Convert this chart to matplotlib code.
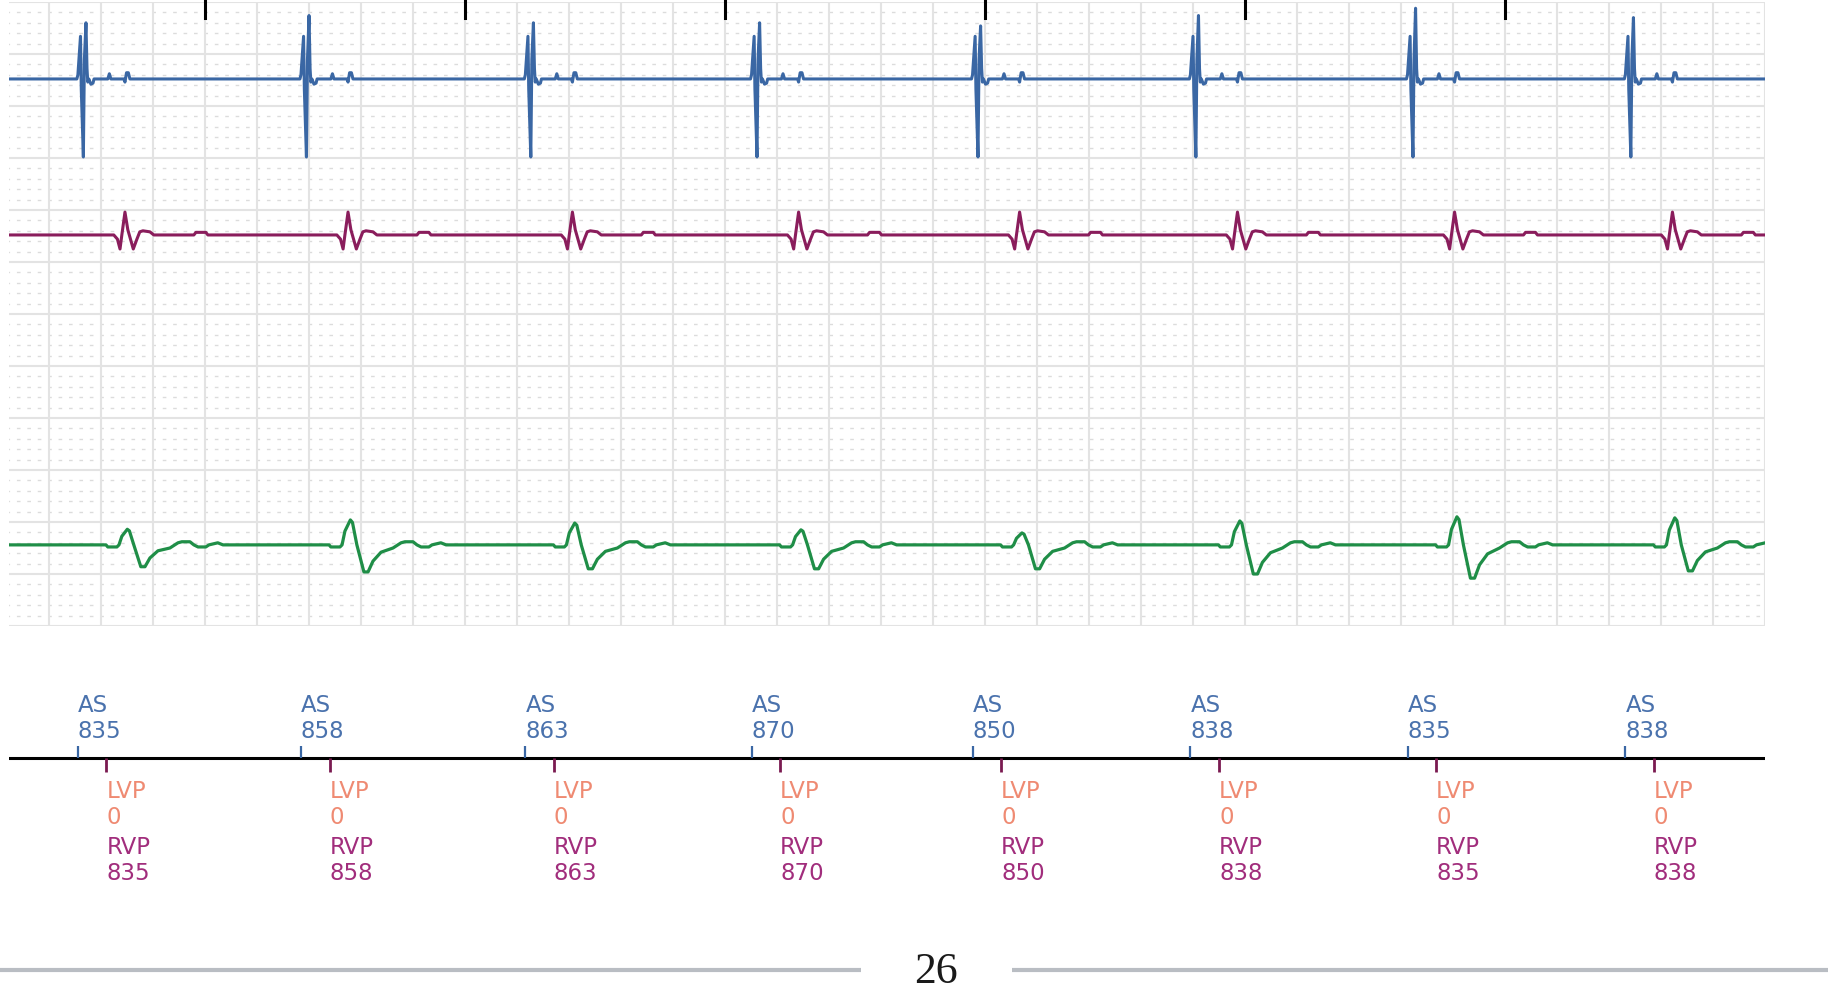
import matplotlib
matplotlib.use('Agg')
import matplotlib.pyplot as plt
import numpy as np

plt.rcParams['lines.scale_dashes'] = False

# Marker channel: intervals (ms) shown under each beat
as_intervals = [835, 858, 863, 870, 850, 838, 835, 838]
lvp_values = [0, 0, 0, 0, 0, 0, 0, 0]
rvp_intervals = [835, 858, 863, 870, 850, 838, 835, 838]
first_as = 111      # ms, time of first atrial sense on the strip
av_delay = 110      # ms, AS -> RVP

blue_t = [-4, 0, 10, 13, 21, 25, 31, 35, 38, 42, 50, 58, 62, 115, 121, 127, 177, 181, 187, 194, 200]
blue_v = [0, 0.4, 4.1, -1.0, -7.5, 1.9, 0, 1.0, -0.3, 0, -0.5, -0.4, 0, 0, 0.5, 0, 0, -0.3, 0.6, 0.6, 0]
blue_pk = [0, 0, 0, 0, 0, 0, 1, 0, 0, 0, 0, 0, 0, 0, 0, 0, 0, 0, 0, 0, 0]
blue_peaks = [5.4, 6.1, 5.4, 5.4, 5.1, 6.1, 6.8, 5.9]

purple_t = [138, 152, 162, 169, 181, 192, 213, 227, 238, 250, 277, 292, 446, 454, 492, 500]
purple_v = [0, -0.4, -1.35, 0, 2.2, 0.5, -1.35, -0.4, 0.3, 0.4, 0.3, 0, 0, 0.25, 0.25, 0]

green_t = [108, 115, 150, 158, 169, 190, 198, 215, 242, 258, 277, 308, 354, 385, 400, 431, 446, 462, 492, 504, 538, 558]
green_v = [0, -0.2, -0.2, 0, 0, 0, 0, 0, 0, 0, 0, 0, -0.3, 0.2, 0.3, 0.3, 0, -0.2, -0.2, 0, 0.2, 0]
green_pk = [0, 0, 0, 0, 0.55, 1, 0.9, 0, 0, 0, 0, 0, 0, 0, 0, 0, 0, 0, 0, 0, 0, 0]
green_tr = [0, 0, 0, 0, 0, 0, 0, 0, 1, 1, 0.6, 0.27, 0, 0, 0, 0, 0, 0, 0, 0, 0, 0]
green_peaks = [1.5, 2.4, 2.1, 1.45, 1.15, 2.3, 2.7, 2.6]
green_troughs = [-2.1, -2.6, -2.3, -2.3, -2.3, -2.8, -3.2, -2.5]

# beat times from the intervals
as_times = first_as + np.concatenate([[0], np.cumsum(as_intervals[1:])])
v_times = as_times + av_delay

XMIN, XMAX = -154, 6600


def build_trace(times, t, v, extra=None):
    xs = [XMIN]
    ys = [0.0]
    for i, t0 in enumerate(times):
        vals = np.array(v, dtype=float)
        if extra is not None:
            for mult, amps in extra:
                vals = vals + np.array(mult) * amps[i]
        xs.extend(t0 + np.array(t))
        ys.extend(vals)
    xs.append(XMAX + 100)
    ys.append(0.0)
    return np.array(xs), np.array(ys)


fig = plt.figure(figsize=(18.28, 10.07), dpi=100)

# ---- strip ----
ax = fig.add_axes([9 / 1828, 1 - 626 / 1007, 1756 / 1828, 624 / 1007])
ax.set_xlim(XMIN, XMAX)
ax.set_ylim(0, 60)
ax.axis('off')

# minor dashed rows
for y in np.arange(1, 60, 1):
    if y % 5 == 0:
        continue
    ax.hlines(y, -160 - 7, XMAX, colors='#dcdcdc', lw=1.0, linestyles=[(0, (2.6, 4.9))], zorder=1)
# major grid
for x in np.arange(0, XMAX + 1, 200):
    ax.axvline(x, color='#e3e3e3', lw=1.5, zorder=1)
for y in np.arange(0, 61, 5):
    ax.axhline(y, color='#e3e3e3', lw=1.5, zorder=1)

# second ticks at top
for x in np.arange(600, XMAX, 1000):
    ax.plot([x, x], [58.5, 60.3], color='black', lw=2.2, clip_on=False, zorder=3)

bx, by = build_trace(as_times, blue_t, blue_v, [(blue_pk, blue_peaks)])
ax.plot(bx, by + 52.6, color='#3a67a4', lw=2.2, zorder=4)

px, py = build_trace(as_times, purple_t, purple_v)
ax.plot(px, py + 37.6, color='#8a1d5c', lw=2.2, zorder=4)

gx, gy = build_trace(as_times, green_t, green_v,
                     [(green_pk, green_peaks), (green_tr, green_troughs)])
ax.plot(gx, gy + 7.8, color='#1f8e47', lw=2.3, zorder=4)

# ---- marker channel ----
mk = fig.add_axes([9 / 1828, 1 - 900 / 1007, 1756 / 1828, 220 / 1007])
mk.set_xlim(XMIN, XMAX)
mk.set_ylim(900, 680)
mk.axis('off')
mk.axhline(758, color='black', lw=2.2)
mk.vlines(as_times, 746, 758, colors='#3a67a4', lw=1.6)
mk.vlines(v_times, 758, 772, colors='#7a1a50', lw=2.0)

fs = 16.5
for i in range(len(as_times)):
    mk.text(as_times[i], 705, 'AS', color='#4a72ad', fontsize=fs, ha='left', va='center')
    mk.text(as_times[i], 732, str(as_intervals[i]), color='#4a72ad', fontsize=fs, ha='left', va='center')
    mk.text(v_times[i], 792, 'LVP', color='#ef8a72', fontsize=fs, ha='left', va='center')
    mk.text(v_times[i], 817, str(lvp_values[i]), color='#ef8a72', fontsize=fs, ha='left', va='center')
    mk.text(v_times[i], 848, 'RVP', color='#a12d7c', fontsize=fs, ha='left', va='center')
    mk.text(v_times[i], 873, str(rvp_intervals[i]), color='#a12d7c', fontsize=fs, ha='left', va='center')

# ---- page footer ----
pg = fig.add_axes([0, 0, 1, 1], zorder=-1)
pg.set_xlim(0, 1828)
pg.set_ylim(1007, 0)
pg.axis('off')
pg.plot([0, 861], [970, 970], color='#b9bdc3', lw=3.0, solid_capstyle='butt')
pg.plot([1012, 1828], [970, 970], color='#b9bdc3', lw=3.0, solid_capstyle='butt')
pg.text(936, 972, '26', fontsize=31.5, family='Liberation Serif', color='#1a1a1a',
        ha='center', va='center')

fig.savefig('out.png', dpi=100)
